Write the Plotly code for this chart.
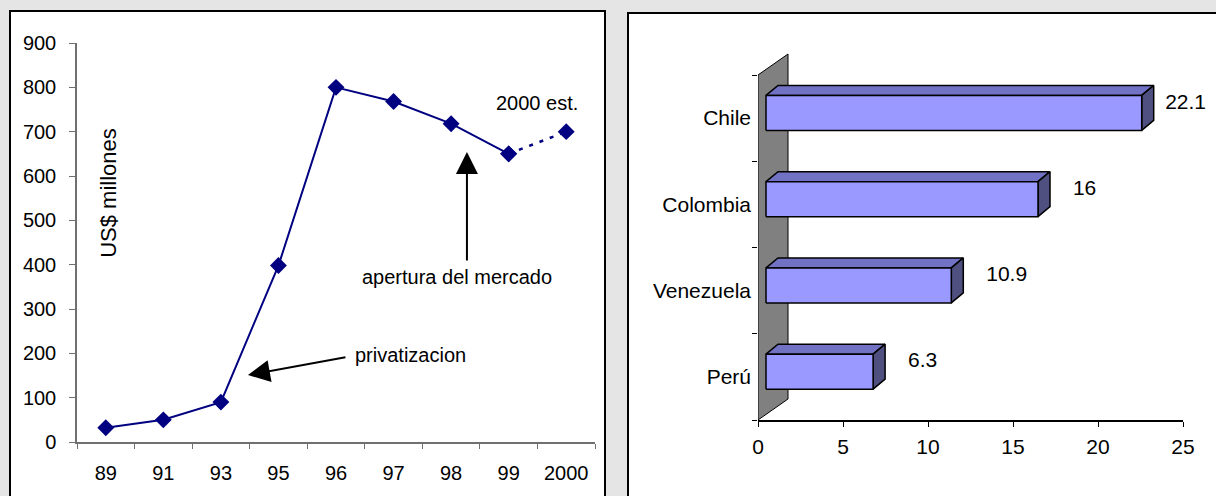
import plotly.graph_objects as go

# ---- data -------------------------------------------------------------
years = ["89", "91", "93", "95", "96", "97", "98", "99", "2000"]
revenue = [32, 50, 90, 398, 800, 768, 718, 650, 700]   # US$ millones, 2000 estimated

countries = ["Perú", "Venezuela", "Colombia", "Chile"]
shares = [6.3, 10.9, 16, 22.1]

W, H = 1216, 496
FONT = "Liberation Sans, Arial, sans-serif"


def px(x):
    return x / W


def py(y):
    return 1 - y / H


fig = go.Figure()

# ---- left: line chart ---------------------------------------------------
n_actual = len(years) - 1
fig.add_trace(go.Scatter(
    x=years[:n_actual], y=revenue[:n_actual], mode="lines+markers",
    line=dict(color="#000080", width=2),
    marker=dict(symbol="diamond", size=13, color="#000080"),
    xaxis="x", yaxis="y", showlegend=False, hoverinfo="x+y"))
fig.add_trace(go.Scatter(
    x=years[n_actual - 1:], y=revenue[n_actual - 1:], mode="lines+markers",
    line=dict(color="#000080", width=2.5, dash="4px,7px"),
    marker=dict(symbol="diamond", size=13, color="#000080"),
    xaxis="x", yaxis="y", showlegend=False, hoverinfo="x+y"))

# ---- right: 3-D style horizontal bars ----------------------------------
X_PER_PX = 25 / 425.0
Y_PER_PX = 1 / 86.25
base = 8 * X_PER_PX            # front face starts slightly off the wall
depth_x = 12 * X_PER_PX
depth_y = 10 * Y_PER_PX
half_h = 17.5 * Y_PER_PX
lift = 0.06

wall_dx = 30 * X_PER_PX
wall_dy = 21 * Y_PER_PX
n_cat = len(countries)
fig.add_trace(go.Scatter(
    x=[0, 0, wall_dx, wall_dx, 0], y=[0, n_cat, n_cat + wall_dy, wall_dy, 0],
    mode="lines", fill="toself", fillcolor="#808080",
    line=dict(color="#000000", width=1),
    xaxis="x2", yaxis="y2", showlegend=False, hoverinfo="skip"))

for i, (name, v) in enumerate(zip(countries, shares)):
    c = i + 0.5 + lift
    y0, y1 = c - half_h, c + half_h
    x0, x1 = base, base + v
    faces = [
        # top face
        ([x0, x1, x1 + depth_x, x0 + depth_x, x0],
         [y1, y1, y1 + depth_y, y1 + depth_y, y1], "#7272c4"),
        # end face
        ([x1, x1 + depth_x, x1 + depth_x, x1, x1],
         [y0, y0 + depth_y, y1 + depth_y, y1, y0], "#4f4f80"),
        # front face
        ([x0, x1, x1, x0, x0], [y0, y0, y1, y1, y0], "#9999ff"),
    ]
    for fx, fy, col in faces:
        fig.add_trace(go.Scatter(
            x=fx, y=fy, mode="lines", fill="toself", fillcolor=col,
            line=dict(color="#000000", width=1.5),
            xaxis="x2", yaxis="y2", showlegend=False, hoverinfo="skip"))

label_x = [min(v + base + depth_x + 1.35, 23.95) for v in shares]
label_y = [i + 0.5 + 0.17 for i in range(n_cat)]
fig.add_trace(go.Scatter(
    x=label_x, y=label_y, mode="text",
    text=[f"{v:g}" for v in shares], textposition="middle right",
    textfont=dict(family=FONT, size=21, color="#000000"),
    xaxis="x2", yaxis="y2", showlegend=False, hoverinfo="skip",
    cliponaxis=False))

# ---- panels -------------------------------------------------------------
shapes = [
    dict(type="rect", xref="paper", yref="paper",
         x0=px(10), x1=px(605), y0=py(520), y1=py(11),
         line=dict(color="#000000", width=2), fillcolor="#ffffff", layer="below"),
    dict(type="rect", xref="paper", yref="paper",
         x0=px(628), x1=px(1240), y0=py(520), y1=py(13),
         line=dict(color="#000000", width=2), fillcolor="#ffffff", layer="below"),
]

txt = dict(family=FONT, size=20, color="#000000")
annotations = [
    dict(text="US$ millones", x=0.056, y=562, xref="x", yref="y",
         textangle=-90, showarrow=False, font=dict(family=FONT, size=22, color="#000000")),
    dict(text="privatizacion", x=4.295, y=196, xref="x", yref="y",
         xanchor="left", yanchor="middle", showarrow=False, font=txt),
    dict(text="apertura del mercado", x=6.10, y=372, xref="x", yref="y",
         yanchor="middle", showarrow=False, font=txt),
    dict(text="2000 est.", x=7.49, y=765, xref="x", yref="y",
         yanchor="middle", showarrow=False, font=txt),
    # arrows
    dict(text="", x=2.47, y=151, xref="x", yref="y", showarrow=True,
         ax=99, ay=-18, arrowhead=2, arrowsize=2.2, arrowwidth=2, arrowcolor="#000000"),
    dict(text="", x=6.275, y=654, xref="x", yref="y", showarrow=True,
         ax=0, ay=110, arrowhead=2, arrowsize=2.2, arrowwidth=2, arrowcolor="#000000"),
]

fig.update_layout(
    width=W, height=H, margin=dict(l=0, r=0, t=0, b=0, autoexpand=False),
    paper_bgcolor="#e5e5e5", plot_bgcolor="rgba(0,0,0,0)",
    font=dict(family=FONT, color="#000000"),
    shapes=shapes, annotations=annotations, showlegend=False,
    xaxis=dict(domain=[px(77), px(595)], type="category", range=[-0.5, 8.5],
               tickson="boundaries", ticks="outside", ticklen=5, tickcolor="#707070",
               showline=True, linecolor="#707070", linewidth=1.5, automargin=False,
               showgrid=False, zeroline=False, fixedrange=True,
               tickfont=dict(family=FONT, size=20), ticklabelstandoff=12),
    yaxis=dict(domain=[py(442), py(43)], range=[0, 900], dtick=100,
               ticks="outside", ticklen=6, tickcolor="#707070", automargin=False,
               showline=True, linecolor="#707070", linewidth=1.5,
               showgrid=False, zeroline=False, fixedrange=True,
               tickfont=dict(family=FONT, size=20), ticklabelstandoff=9),
    xaxis2=dict(domain=[px(758), px(1183)], range=[0, 25], dtick=5, anchor="y2",
                ticks="outside", ticklen=5, tickcolor="#000000", automargin=False,
                showline=True, linecolor="#000000", linewidth=1.5,
                showgrid=False, zeroline=False, fixedrange=True,
                tickfont=dict(family=FONT, size=21), ticklabelstandoff=2),
    yaxis2=dict(domain=[py(420), py(40)], range=[0, 380 * Y_PER_PX], anchor="x2",
                tickmode="array", tickvals=[i + 0.5 for i in range(n_cat)],
                ticktext=countries, ticks="", showline=False, automargin=False,
                minor=dict(tickmode="array", tickvals=list(range(n_cat + 1)),
                           ticks="outside", ticklen=5, tickcolor="#000000"),
                showgrid=False, zeroline=False, fixedrange=True,
                tickfont=dict(family=FONT, size=21), ticklabelstandoff=6),
)

fig.write_html("out.html")
